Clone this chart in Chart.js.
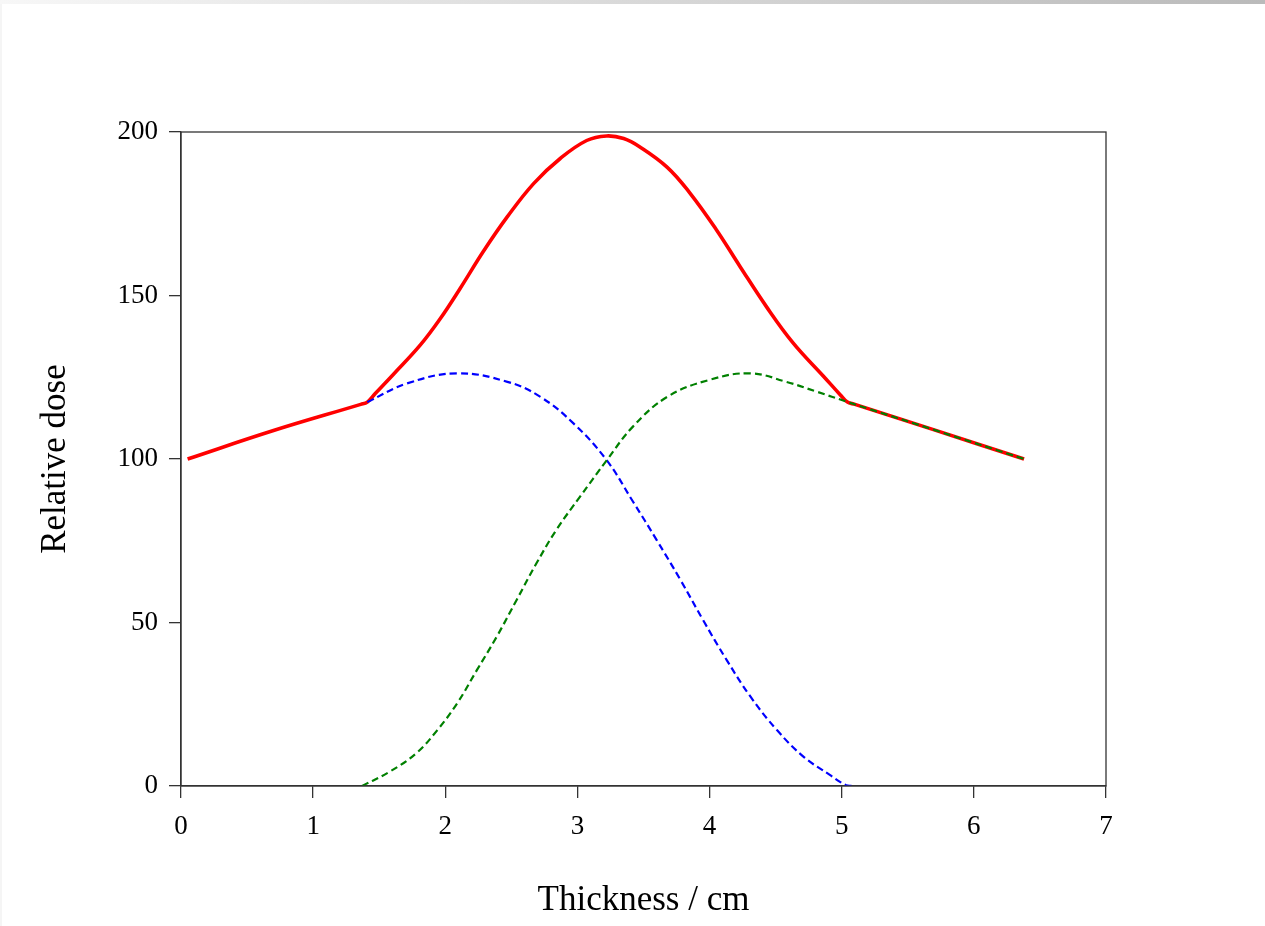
<!DOCTYPE html>
<html>
<head>
<meta charset="utf-8">
<script src="https://cdn.jsdelivr.net/npm/chart.js@4/dist/chart.umd.min.js"></script>
<style>
  html, body { margin: 0; padding: 0; background: #fff; overflow: hidden; }
  #wrap { position: absolute; left: 0; top: 0; width: 1265px; height: 926px; }
  #topStrip { position: absolute; left: 0; top: 0; width: 1265px; height: 4px;
    background: linear-gradient(to right, #f7f7f7, #bababa); }
  #leftStrip { position: absolute; left: 0; top: 4px; width: 2px; height: 922px; background: #f5f5f5; }
</style>
</head>
<body>
<div id="wrap"><canvas id="chart" width="1265" height="926"></canvas></div>
<div id="topStrip"></div>
<div id="leftStrip"></div>
<script>
// total dose (red)
const totalX = [0.05, 0.70, 1.36, 1.41, 1.47, 1.61, 1.81, 1.96, 2.11, 2.29, 2.47, 2.67, 2.87, 3.07, 3.22, 3.35, 3.47, 3.68, 3.85, 4.05, 4.23, 4.43, 4.63, 4.86, 4.99, 5.04, 5.10, 5.70, 6.38];
const totalY = [100, 108.7, 116.7, 117.4, 120.0, 126.0, 134.8, 142.8, 152.0, 163.6, 174.1, 184.3, 191.9, 197.4, 198.8, 198.0, 195.5, 189.2, 181.4, 170.2, 158.9, 146.6, 135.6, 125.4, 119.6, 117.5, 116.7, 108.9, 100];

// first field (blue dashed)
const fieldAX = [1.41, 1.71, 2.09, 2.47, 2.72, 2.97, 3.22, 3.42, 3.60, 3.78, 3.95, 4.13, 4.31, 4.51, 4.71, 4.91, 5.03, 5.08];
const fieldAY = [117.4, 123.1, 126.2, 123.6, 119.0, 110.9, 99.7, 87.0, 75.2, 63.0, 50.8, 38.5, 27.3, 17.1, 9.0, 3.4, 0.3, 0];

// second field (green dashed)
const fieldBX = [1.37, 1.58, 1.78, 1.94, 2.09, 2.24, 2.39, 2.54, 2.69, 2.84, 3.02, 3.22, 3.42, 3.68, 4.00, 4.31, 4.58, 4.81, 5.04, 5.20, 5.70, 6.38];
const fieldBY = [0, 4.4, 10.0, 17.1, 25.3, 35.5, 45.7, 56.9, 68.1, 78.3, 88.5, 99.5, 109.9, 119.0, 124.2, 126.2, 123.6, 120.6, 117.5, 115.4, 108.9, 100];

const xTicks = [0, 1, 2, 3, 4, 5, 6, 7];
const yTicks = [0, 50, 100, 150, 200];

const pts = (xs, ys) => xs.map((x, i) => ({ x: x, y: ys[i] }));

const serif = '"Liberation Serif", "Times New Roman", serif';
const axisColor = '#333';

// box around the plot area (top + right sides)
const frame = {
  id: 'frame',
  afterDraw(chart) {
    const { ctx, chartArea: a } = chart;
    ctx.save();
    ctx.strokeStyle = axisColor;
    ctx.lineWidth = 1.3;
    ctx.strokeRect(a.left, a.top, a.right - a.left, a.bottom - a.top);
    ctx.restore();
  }
};

new Chart(document.getElementById('chart').getContext('2d'), {
  type: 'line',
  data: {
    datasets: [
      {
        label: 'Field 2',
        data: pts(fieldBX, fieldBY),
        borderColor: '#008000',
        borderWidth: 2.2,
        borderDash: [7, 4],
        pointRadius: 0,
        tension: 0.4
      },
      {
        label: 'Field 1',
        data: pts(fieldAX, fieldAY),
        borderColor: '#0000ff',
        borderWidth: 2.2,
        borderDash: [7, 4],
        pointRadius: 0,
        tension: 0.4
      },
      {
        label: 'Total',
        data: pts(totalX, totalY),
        borderColor: '#ff0000',
        borderWidth: 3.6,
        pointRadius: 0,
        tension: 0.4
      }
    ]
  },
  options: {
    responsive: false,
    animation: false,
    layout: { padding: { left: 32, right: 159, top: 132, bottom: 4 } },
    plugins: { legend: { display: false }, tooltip: { enabled: false } },
    scales: {
      x: {
        type: 'linear',
        min: 0,
        max: 7,
        afterFit: (s) => { s.height = 136; },
        afterBuildTicks: (s) => { s.ticks = xTicks.map(v => ({ value: v })); },
        ticks: { color: '#000', font: { family: serif, size: 27 }, padding: 13, maxRotation: 0 },
        grid: { drawOnChartArea: false, drawTicks: true, tickLength: 12, color: axisColor, lineWidth: 1.3 },
        border: { color: axisColor, width: 1.3 },
        title: { display: true, text: 'Thickness / cm', color: '#000', font: { family: serif, size: 35 }, padding: { top: 0, bottom: 0 } }
      },
      y: {
        type: 'linear',
        min: 0,
        max: 200,
        afterFit: (s) => { s.width = 149; },
        afterBuildTicks: (s) => { s.ticks = yTicks.map(v => ({ value: v })); },
        ticks: { color: '#000', font: { family: serif, size: 27 }, padding: 11 },
        grid: { drawOnChartArea: false, drawTicks: true, tickLength: 12, color: axisColor, lineWidth: 1.3 },
        border: { color: axisColor, width: 1.3 },
        title: { display: true, text: 'Relative dose', color: '#000', font: { family: serif, size: 35 }, padding: { top: 3, bottom: 0 } }
      }
    }
  },
  plugins: [frame]
});
</script>
</body>
</html>
